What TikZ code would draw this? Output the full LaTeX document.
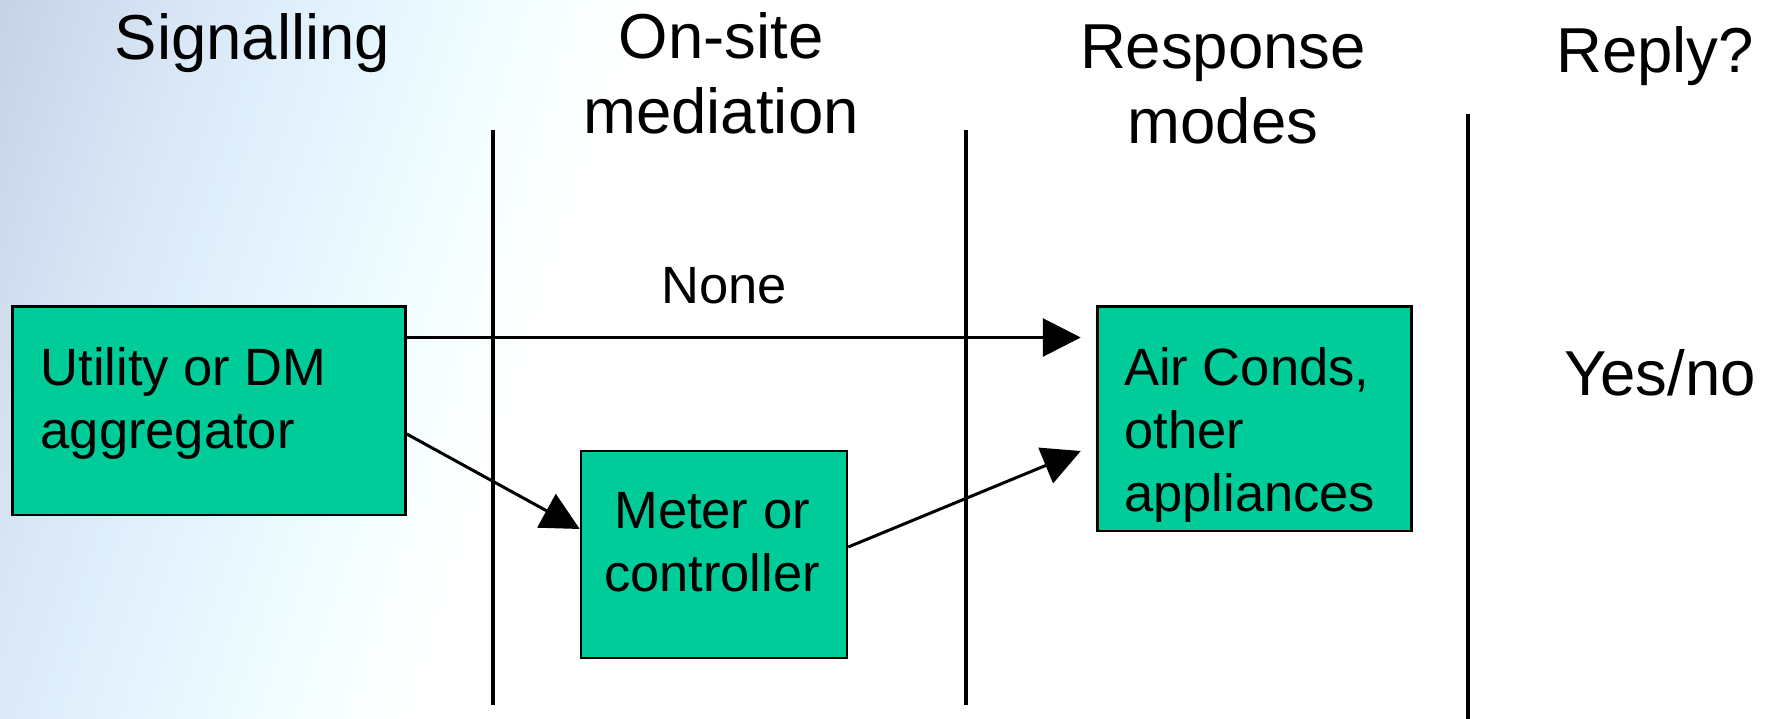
\documentclass[tikz,border=0pt]{standalone}
\usepackage{fontspec}
\setmainfont{Liberation Sans}
\usetikzlibrary{arrows.meta}

\definecolor{boxgreen}{RGB}{0,204,153}
\definecolor{bgA}{RGB}{198,210,227}
\definecolor{bgB}{RGB}{205,217,235}
\definecolor{bgC}{RGB}{218,232,248}
\definecolor{bgD}{RGB}{227,243,253}
\definecolor{bgE}{RGB}{238,252,255}
\definecolor{bgF}{RGB}{250,255,255}

\tikzset{
  box/.style={draw=black, line width=2.5pt, fill=boxgreen, inner sep=0pt},
  headtext/.style={inner sep=0pt, font=\fontsize{63.5}{75}\selectfont, align=center},
  boxtext/.style={inner sep=0pt, font=\fontsize{52.5}{63}\selectfont},
  divider/.style={draw=black, line width=3.5pt},
  conn/.style={draw=black, line width=3pt, -{Triangle[length=38pt, width=38pt]}},
}

\begin{document}
\begin{tikzpicture}[x=1pt, y=-1pt]
  \useasboundingbox (0,0) rectangle (1776,719);

  % slide background: white with a tilted blue fade on the left
  \fill[white] (0,0) rectangle (1776,719);
  \begin{scope}
    \clip (0,0) rectangle (1776,719);
    \begin{scope}[transform canvas={rotate=-18}]
      \shade[left color=bgA, right color=bgB] (-1,-1200) rectangle (61,1200);
      \shade[left color=bgB, right color=bgC] (60,-1200) rectangle (201,1200);
      \shade[left color=bgC, right color=bgD] (200,-1200) rectangle (331,1200);
      \shade[left color=bgD, right color=bgE] (330,-1200) rectangle (451,1200);
      \shade[left color=bgE, right color=bgF] (450,-1200) rectangle (561,1200);
      \shade[left color=bgF, right color=white] (560,-1200) rectangle (621,1200);
    \end{scope}
  \end{scope}

  % column dividers
  \draw[divider] (493,130) -- (493,705);
  \draw[divider] (966,130) -- (966,705);
  \draw[divider] (1468,114) -- (1468,719);

  % column headings (multi-line nodes sit on the baseline of their last line)
  \node[headtext, anchor=base] (hsig) at (252.6,59.6) {Signalling};
  \node[headtext, anchor=base] (hmed) at (721,133.3) {On-site\\mediation};
  \node[headtext, anchor=base] (hresp) at (1223,144) {Response\\modes};
  \node[headtext, anchor=base] (hreply) at (1655,72.5) {Reply?};

  % boxes
  \node[box, minimum width=393pt, minimum height=208.5pt] (util) at (209,410.5) {};
  \node[box, minimum width=266pt, minimum height=207pt] (meter) at (714,554.5) {};
  \node[box, minimum width=314pt, minimum height=224.5pt] (air) at (1254.5,418.75) {};

  \node[boxtext, anchor=base west, align=left] (utiltext) at (40.5,448) {Utility or DM\\aggregator};
  \node[boxtext, anchor=base, align=center] (metertext) at (712,591.7) {Meter or\\controller};
  \node[boxtext, anchor=base west, align=left] (airtext) at (1124,511.7) {Air Conds,\\other\\appliances};

  % connectors
  \coordinate (topS) at (util.east |- 0,337.5);
  \coordinate (topE) at ([xshift=-15.5pt]air.west |- topS);
  \coordinate (lowS) at (util.east |- 0,434);
  \coordinate (lowE) at (meter.west |- 0,529);
  \coordinate (midS) at (meter.east |- 0,547);
  \coordinate (midE) at ([xshift=-15.5pt]air.west |- 0,451);

  \draw[conn] (topS) -- (topE);
  \draw[conn] (lowS) -- (lowE);
  \draw[conn] (midS) -- (midE);

  \node[boxtext, anchor=base] (none) at (724,303.3) {None};
  \node[headtext, anchor=base] (yesno) at (1660,395) {Yes/no};
\end{tikzpicture}
\end{document}
